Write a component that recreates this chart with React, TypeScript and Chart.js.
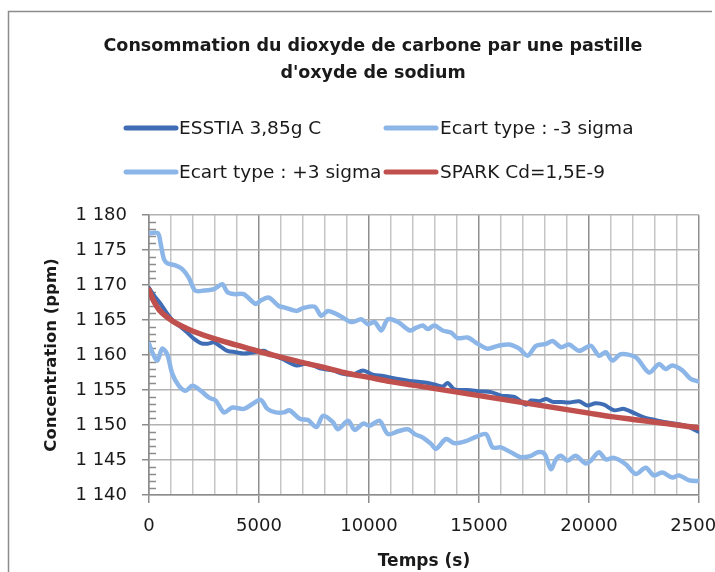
import { useEffect, useRef } from 'react';
import { Chart, registerables } from 'chart.js';

Chart.register(...registerables);

// ---------- text ----------
const chartTitle = ['Consommation du dioxyde de carbone par une pastille', "d'oxyde de sodium"];
const xAxisTitle = 'Temps (s)';
const yAxisTitle = 'Concentration (ppm)';
const seriesLabels = ['ESSTIA 3,85g C', 'Ecart type : -3 sigma', 'Ecart type : +3 sigma', 'SPARK Cd=1,5E-9'];
const seriesColors = ['#3E6DB5', '#8DB6E8', '#8DB6E8', '#C0504D'];

// ---------- axes ----------
const xMin = 0;
const xMax = 25000;
const xMinorStep = 1000;
const xMajorStep = 5000;
const yMin = 1140;
const yMax = 1180;
const yStep = 5;

// ---------- data (time in s, concentration in ppm) ----------
const esstiaTime = [0, 230, 530, 830, 1140, 1440, 1740, 2050, 2350, 2650, 2950, 3260, 3560, 3940, 4320, 4770, 5230, 5530, 6090, 6700, 7230, 7760, 8360, 8820, 9270, 9730, 10180, 10640, 11240, 11850, 12450, 12970, 13350, 13580, 13880, 14480, 15090, 15550, 16000, 16610, 17140, 17360, 17740, 18050, 18350, 18730, 19090, 19550, 19920, 20300, 20680, 21140, 21590, 22050, 22500, 23030, 23480, 23940, 24390, 25000];
const esstiaPpm = [1169.6, 1168.5, 1167.3, 1165.9, 1164.7, 1164.0, 1163.2, 1162.3, 1161.7, 1161.6, 1161.8, 1161.2, 1160.6, 1160.4, 1160.2, 1160.4, 1160.6, 1160.1, 1159.4, 1158.5, 1158.8, 1158.1, 1157.8, 1157.3, 1157.2, 1157.8, 1157.2, 1157.0, 1156.6, 1156.3, 1156.1, 1155.8, 1155.5, 1156.0, 1155.1, 1155.0, 1154.8, 1154.7, 1154.2, 1154.0, 1152.9, 1153.5, 1153.4, 1153.7, 1153.3, 1153.3, 1153.2, 1153.4, 1152.8, 1153.1, 1152.9, 1152.1, 1152.3, 1151.7, 1151.1, 1150.7, 1150.4, 1150.2, 1149.9, 1149.0];

const minusTime = [0, 150, 380, 600, 830, 1060, 1360, 1670, 1970, 2350, 2730, 3030, 3410, 3790, 4320, 4700, 5080, 5380, 5760, 6140, 6390, 6850, 7230, 7610, 7910, 8360, 8590, 9050, 9350, 9730, 10030, 10480, 10860, 11320, 11770, 12080, 12450, 12820, 13050, 13500, 13880, 14410, 14860, 15320, 15620, 16000, 16450, 16910, 17360, 17670, 17970, 18270, 18500, 18730, 19020, 19390, 19850, 20080, 20450, 20760, 21140, 21670, 22120, 22580, 22950, 23330, 23790, 24090, 24550, 25000];
const minusPpm = [1161.6, 1160.4, 1159.2, 1160.9, 1160.1, 1157.3, 1155.6, 1154.9, 1155.6, 1154.9, 1153.9, 1153.5, 1151.8, 1152.5, 1152.3, 1153.0, 1153.6, 1152.3, 1151.8, 1151.8, 1152.1, 1150.9, 1150.7, 1149.7, 1151.3, 1150.4, 1149.4, 1150.6, 1149.3, 1150.2, 1149.9, 1150.6, 1148.7, 1149.1, 1149.4, 1148.7, 1148.2, 1147.3, 1146.6, 1148.0, 1147.4, 1147.7, 1148.3, 1148.7, 1146.8, 1146.8, 1146.1, 1145.4, 1145.6, 1146.1, 1145.9, 1143.7, 1145.1, 1145.6, 1144.9, 1145.6, 1144.5, 1144.9, 1146.1, 1145.1, 1145.3, 1144.4, 1143.0, 1143.9, 1142.8, 1143.2, 1142.5, 1142.8, 1142.1, 1142.0];

const plusTime = [0, 400, 530, 680, 830, 1200, 1500, 1800, 2100, 2500, 2950, 3330, 3560, 3860, 4300, 4850, 5080, 5450, 5900, 6140, 6700, 7000, 7530, 7830, 8140, 8670, 9200, 9650, 9950, 10260, 10560, 10860, 11320, 11850, 12150, 12450, 12670, 12970, 13350, 13730, 14030, 14480, 14940, 15390, 15850, 16380, 16830, 17210, 17590, 18050, 18350, 18730, 19090, 19550, 20080, 20450, 20760, 21060, 21440, 22120, 22730, 23180, 23480, 23790, 24240, 24620, 25000];
const plusPpm = [1177.4, 1177.4, 1175.9, 1173.7, 1173.1, 1172.8, 1172.3, 1171.1, 1169.2, 1169.2, 1169.4, 1170.1, 1169.0, 1168.7, 1168.7, 1167.3, 1167.8, 1168.2, 1167.0, 1166.8, 1166.3, 1166.7, 1166.9, 1165.6, 1166.3, 1165.6, 1164.7, 1165.1, 1164.4, 1164.7, 1163.5, 1165.1, 1164.7, 1163.5, 1163.9, 1164.2, 1163.7, 1164.2, 1163.5, 1163.2, 1162.4, 1162.5, 1161.6, 1160.9, 1161.3, 1161.5, 1160.9, 1159.9, 1161.3, 1161.6, 1162.0, 1161.1, 1161.5, 1160.6, 1161.3, 1159.9, 1160.4, 1159.2, 1160.1, 1159.7, 1157.5, 1158.7, 1158.0, 1158.5, 1157.8, 1156.6, 1156.2];

const sparkTime = [0, 200, 500, 1000, 1500, 2000, 3000, 4000, 5000, 6000, 7000, 8000, 9000, 10000, 11000, 12000, 13000, 14000, 15000, 16000, 17000, 18000, 19000, 20000, 21000, 22000, 23000, 24000, 25000];
const sparkPpm = [1169.3, 1167.8, 1166.3, 1165.0, 1164.1, 1163.4, 1162.3, 1161.4, 1160.5, 1159.7, 1158.9, 1158.2, 1157.4, 1156.8, 1156.2, 1155.7, 1155.2, 1154.7, 1154.2, 1153.7, 1153.2, 1152.7, 1152.2, 1151.7, 1151.2, 1150.8, 1150.4, 1150.0, 1149.6];

const FONT = '"DejaVu Sans", sans-serif';
const TEXT = '#1a1a1a';
const AXIS_GREY = '#8c8c8c';

const toPoints = (t: number[], v: number[]) => t.map((x, i) => ({ x, y: v[i] }));
const fmtThousands = (v: number) => String(v).replace(/\B(?=(\d{3})+(?!\d))/g, ' ');

const frameplugin = {
  id: 'frame',
  beforeDraw(chart: any) {
    const { ctx, width, height } = chart;
    ctx.save();
    ctx.fillStyle = '#ffffff';
    ctx.fillRect(0, 0, width, height);
    ctx.strokeStyle = AXIS_GREY;
    ctx.lineWidth = 1.5;
    ctx.beginPath();
    ctx.moveTo(8.5, height + 2);
    ctx.lineTo(8.5, 11.5);
    ctx.lineTo(712, 11.5);
    ctx.stroke();
    ctx.restore();
  },
};

const minorTicksPlugin = {
  id: 'minorTicks',
  beforeDatasetsDraw(chart: any) {
    const { ctx, chartArea } = chart;
    const y = chart.scales.y;
    ctx.save();
    ctx.strokeStyle = AXIS_GREY;
    ctx.lineWidth = 1.5;
    ctx.beginPath();
    for (let v = yMin + 1; v < yMax; v++) {
      if (v % yStep === 0) continue;
      const py = Math.round(y.getPixelForValue(v)) + 0.5;
      ctx.moveTo(chartArea.left, py);
      ctx.lineTo(chartArea.left + 7, py);
    }
    ctx.stroke();
    ctx.restore();
  },
};

const legendPlugin = {
  id: 'gridLegend',
  afterDraw(chart: any) {
    const { ctx } = chart;
    const colSample = [[126, 176], [386, 436]];
    const colText = [179, 440];
    const rowY = [128, 172];
    ctx.save();
    ctx.font = `18.5px ${FONT}`;
    ctx.textBaseline = 'middle';
    ctx.textAlign = 'left';
    chart.data.datasets.forEach((ds: any, i: number) => {
      const col = i % 2;
      const row = Math.floor(i / 2);
      const y = rowY[row];
      ctx.strokeStyle = ds.borderColor;
      ctx.lineWidth = 5;
      ctx.lineCap = 'round';
      ctx.beginPath();
      ctx.moveTo(colSample[col][0], y);
      ctx.lineTo(colSample[col][1], y);
      ctx.stroke();
      ctx.fillStyle = TEXT;
      ctx.fillText(ds.label, colText[col], y + 1);
    });
    ctx.restore();
  },
};

export default function App() {
  const ref = useRef<HTMLCanvasElement>(null);

  useEffect(() => {
    if (!ref.current) return;
    const widths = [4, 4.5, 4.5, 5.5];
    const orders = [1, 3, 2, 0];
    const series = [
      toPoints(esstiaTime, esstiaPpm),
      toPoints(minusTime, minusPpm),
      toPoints(plusTime, plusPpm),
      toPoints(sparkTime, sparkPpm),
    ];
    const chart = new Chart(ref.current, {
      type: 'line',
      data: {
        datasets: series.map((data, i) => ({
          label: seriesLabels[i],
          data,
          borderColor: seriesColors[i],
          backgroundColor: seriesColors[i],
          borderWidth: widths[i],
          pointRadius: 0,
          tension: 0.3,
          borderJoinStyle: 'round',
          borderCapStyle: 'round',
          fill: false,
          order: orders[i],
        })),
      },
      options: {
        responsive: false,
        animation: false,
        devicePixelRatio: 1,
        layout: { padding: { left: 47, right: 16, top: 0, bottom: 0 } },
        plugins: {
          legend: { display: false },
          tooltip: { enabled: false },
          title: {
            display: true,
            text: chartTitle,
            color: TEXT,
            font: { family: FONT, size: 17.5, weight: 'bold', lineHeight: 27 / 17.5 },
            padding: { top: 32.5, bottom: 128.5 },
          },
        },
        scales: {
          x: {
            type: 'linear',
            min: xMin,
            max: xMax,
            afterFit: (s: any) => {
              s.height = 77;
              s.paddingLeft = 0;
              s.paddingRight = 0;
            },
            ticks: {
              stepSize: xMinorStep,
              autoSkip: false,
              maxRotation: 0,
              padding: 13,
              color: TEXT,
              font: { family: FONT, size: 18 },
              callback: (v: any) => (Number(v) % xMajorStep === 0 ? String(v) : ''),
            },
            grid: {
              color: (c: any) => (c.tick && c.tick.value % xMajorStep === 0 ? '#8e8e8e' : '#c6c6c6'),
              lineWidth: 1.5,
              tickLength: 8,
              tickColor: (c: any) => (c.tick && c.tick.value % xMajorStep === 0 ? AXIS_GREY : 'rgba(0,0,0,0)'),
            },
            border: { color: AXIS_GREY, width: 1.5 },
            title: {
              display: true,
              text: xAxisTitle,
              color: TEXT,
              font: { family: FONT, size: 17, weight: 'bold' },
              padding: { top: 0, bottom: 0 },
            },
          },
          y: {
            type: 'linear',
            min: yMin,
            max: yMax,
            afterFit: (s: any) => {
              s.width = 102;
            },
            ticks: {
              stepSize: yStep,
              padding: 15,
              color: TEXT,
              font: { family: FONT, size: 18 },
              callback: (v: any) => fmtThousands(Number(v)),
            },
            grid: {
              color: '#b2b2b2',
              lineWidth: 1.5,
              tickLength: 7,
              tickColor: AXIS_GREY,
            },
            border: { color: AXIS_GREY, width: 1.5 },
            title: {
              display: true,
              text: yAxisTitle,
              color: TEXT,
              font: { family: FONT, size: 16.5, weight: 'bold' },
              padding: { top: -5, bottom: 0 },
            },
          },
        },
      },
      plugins: [frameplugin, minorTicksPlugin, legendPlugin],
    } as any);
    return () => chart.destroy();
  }, []);

  return (
    <div
      style={{
        position: 'fixed',
        left: 0,
        top: 0,
        width: 715,
        height: 572,
        background: '#ffffff',
        overflow: 'hidden',
      }}
    >
      <canvas ref={ref} width={715} height={572} style={{ display: 'block' }} />
    </div>
  );
}
